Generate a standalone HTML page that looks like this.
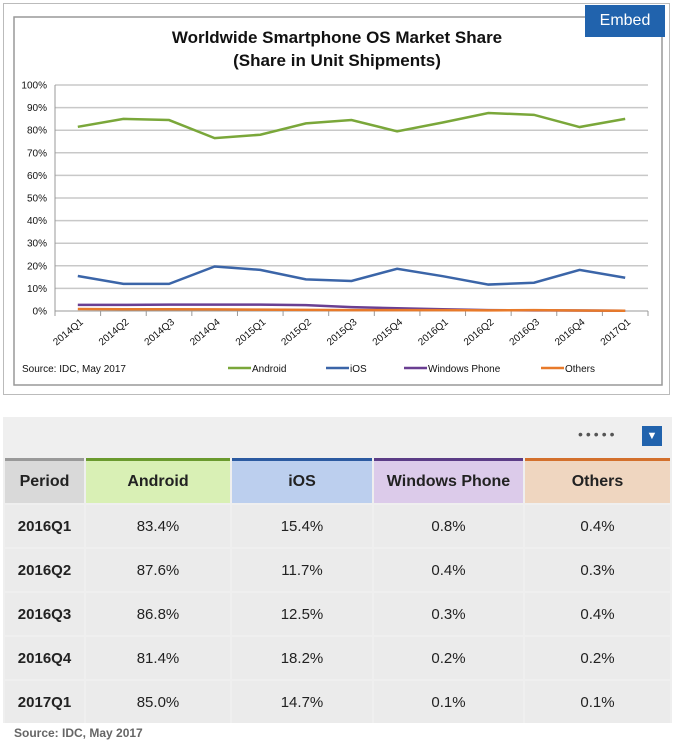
<!DOCTYPE html>
<html><head><meta charset="utf-8"><style>
body{margin:0;width:675px;height:746px;background:#fff;font-family:"Liberation Sans",sans-serif;position:relative;overflow:hidden}
.abs{position:absolute}
table{border-collapse:separate;border-spacing:2px;position:absolute;left:3px;top:456px;width:669px;table-layout:fixed}
td,th{height:42px;text-align:center;font-size:15px;color:#222;background:#ebebeb;padding:0}
th{font-weight:bold;font-size:16px;border-top:3px solid}
td.p{font-weight:bold}
</style></head><body>
<div class="abs" style="left:3px;top:3px;width:667px;height:392px;border:1px solid #bbb;box-sizing:border-box"></div>
<svg class="abs" style="left:0;top:0" width="675" height="400" id="chart">
<rect x="14" y="17" width="648" height="368" fill="#fff" stroke="#999" stroke-width="1.5"/>
<text x="337" y="43" text-anchor="middle" font-size="17" font-weight="bold" fill="#111">Worldwide Smartphone OS Market Share</text>
<text x="337" y="66" text-anchor="middle" font-size="17" font-weight="bold" fill="#111">(Share in Unit Shipments)</text>
<g id="grid"></g><g id="lines"></g><g id="xl"></g>
<text x="22" y="372" font-size="10" fill="#111">Source: IDC, May 2017</text>
<g id="legend"></g>
</svg>
<div class="abs" style="left:585px;top:5px;width:80px;height:32px;background:#2163ad;color:#fff;font-size:16px;line-height:32px;text-align:center">Embed</div>
<div class="abs" style="left:3px;top:417px;width:669px;height:306px;background:#efefef"></div>
<div class="abs" style="left:578px;top:426px;font-size:14px;letter-spacing:3px;color:#555">•••••</div>
<div class="abs" style="left:642px;top:426px;width:20px;height:20px;background:#2163ad;color:#fff;font-size:11px;line-height:20px;text-align:center">▼</div>
<table>
<tr><th style="width:79px;background:#d9d9d9;border-color:#999">Period</th>
<th style="width:144px;background:#d9f0b5;border-color:#6a9a2e">Android</th>
<th style="width:140px;background:#bccfee;border-color:#2b5aa0">iOS</th>
<th style="width:149px;background:#dccbea;border-color:#5b3c86">Windows Phone</th>
<th style="background:#efd6c0;border-color:#d3702c">Others</th></tr>
<tr><td class="p">2016Q1</td><td>83.4%</td><td>15.4%</td><td>0.8%</td><td>0.4%</td></tr>
<tr><td class="p">2016Q2</td><td>87.6%</td><td>11.7%</td><td>0.4%</td><td>0.3%</td></tr>
<tr><td class="p">2016Q3</td><td>86.8%</td><td>12.5%</td><td>0.3%</td><td>0.4%</td></tr>
<tr><td class="p">2016Q4</td><td>81.4%</td><td>18.2%</td><td>0.2%</td><td>0.2%</td></tr>
<tr><td class="p">2017Q1</td><td>85.0%</td><td>14.7%</td><td>0.1%</td><td>0.1%</td></tr>
</table>
<div class="abs" style="left:14px;top:726px;font-size:12px;font-weight:bold;color:#666">Source: IDC, May 2017</div>
<script>
const categories=["2014Q1","2014Q2","2014Q3","2014Q4","2015Q1","2015Q2","2015Q3","2015Q4","2016Q1","2016Q2","2016Q3","2016Q4","2017Q1"];
const android=[81.5,85,84.5,76.5,78,83,84.5,79.5,83.4,87.6,86.8,81.4,85.0];
const ios=[15.5,12,12,19.7,18.2,14,13.3,18.7,15.4,11.7,12.5,18.2,14.7];
const windowsPhone=[2.7,2.7,2.8,2.8,2.8,2.6,1.7,1.2,0.8,0.4,0.3,0.2,0.1];
const others=[0.9,0.8,0.8,0.7,0.6,0.5,0.4,0.4,0.4,0.3,0.4,0.2,0.1];
const yTicks=[0,10,20,30,40,50,60,70,80,90,100];
const NS="http://www.w3.org/2000/svg";
const L=55,R=648,T=85,B=311;
const step=(R-L)/categories.length;
const x=i=>L+step*(i+0.5);
const y=v=>B-(B-T)*v/100;
function mk(tag,attrs,parent){const e=document.createElementNS(NS,tag);for(const k in attrs)e.setAttribute(k,attrs[k]);parent.appendChild(e);return e;}
const grid=document.getElementById('grid');
yTicks.forEach(t=>{
  const ln=mk('line',{x1:L,x2:R,y1:y(t),y2:y(t),stroke:t===0?'#999':'#c8c8c8','stroke-width':t===0?1:1.5},grid);
  
  
  const tx=mk('text',{x:L-8,y:y(t)+3.5,'text-anchor':'end','font-size':10,fill:'#111'},grid);
  tx.textContent=t+'%';
  
  
});
mk('line',{x1:L,x2:L,y1:T,y2:B+4,stroke:'#999'},grid);
const xl=document.getElementById('xl');
for(let i=0;i<=categories.length;i++){mk('line',{x1:L+step*i,x2:L+step*i,y1:B,y2:B+5,stroke:'#999'},grid);}
categories.forEach((c,i)=>{
  const tx=mk('text',{x:x(i)+6,y:B+12,'text-anchor':'end','font-size':10,fill:'#111',transform:`rotate(-40 ${x(i)+6} ${B+12})`},xl);
  tx.textContent=c;
  
  
});
const series=[[android,'#7aa73a','Android'],[ios,'#3b65a8','iOS'],[windowsPhone,'#6a3f92','Windows Phone'],[others,'#e87a2a','Others']];
const lines=document.getElementById('lines');
series.forEach(([vals,col,name])=>{
  const p=mk('polyline',{points:vals.map((v,i)=>x(i)+','+y(v)).join(' '),fill:'none',stroke:col,'stroke-width':2.5},lines);
  
  
});
const legend=document.getElementById('legend');
const lx=[228,326,404,541];
series.forEach(([vals,col,name],k)=>{
  mk('line',{x1:lx[k],x2:lx[k]+23,y1:368,y2:368,stroke:col,'stroke-width':2.5},legend);
  const tx=mk('text',{x:lx[k]+24,y:372,'font-size':10,fill:'#111'},legend);
  tx.textContent=name;
  
  
});
</script>
</body></html>
